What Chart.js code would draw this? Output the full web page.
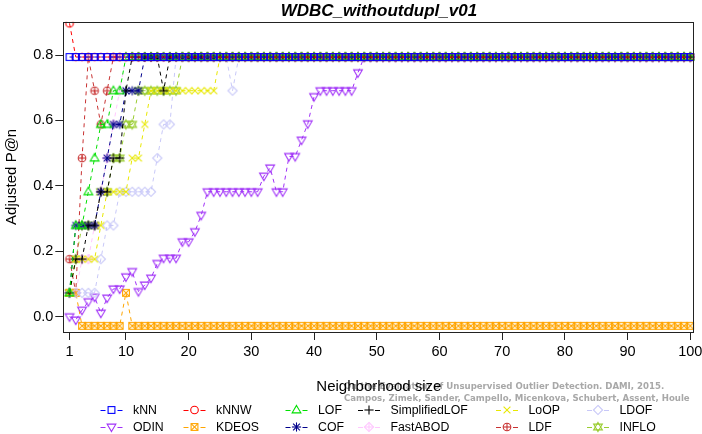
<!DOCTYPE html>
<html><head><meta charset="utf-8">
<script src="https://cdn.jsdelivr.net/npm/chart.js@4.4.1/dist/chart.umd.min.js"></script>
<style>html,body{margin:0;padding:0;background:#fff}canvas{display:block}</style>
</head><body>
<canvas id="c" width="702" height="434"></canvas>
<script>
// ---------------- data ----------------
const ks = [1,2,3,4,5,6,7,8,9,10,11,12,13,14,15,16,17,18,19,20,21,22,23,24,25,26,27,28,29,30,
31,32,33,34,35,36,37,38,39,40,41,42,43,44,45,46,47,48,49,50,51,52,53,54,55,56,57,58,59,60,
61,62,63,64,65,66,67,68,69,70,71,72,73,74,75,76,77,78,79,80,81,82,83,84,85,86,87,88,89,90,
91,92,93,94,95,96,97,98,99,100];
const xTicks = [1,10,20,30,40,50,60,70,80,90,100];
const yTicks = [0.0,0.2,0.4,0.6,0.8];
const seriesNames = ['kNN','kNNW','LOF','SimplifiedLOF','LoOP','LDOF','ODIN','KDEOS','COF','FastABOD','LDF','INFLO'];

const kNN = [
0.794,0.794,0.794,0.794,0.794,0.794,0.794,0.794,0.794,0.794,
0.794,0.794,0.794,0.794,0.794,0.794,0.794,0.794,0.794,0.794,
0.794,0.794,0.794,0.794,0.794,0.794,0.794,0.794,0.794,0.794,
0.794,0.794,0.794,0.794,0.794,0.794,0.794,0.794,0.794,0.794,
0.794,0.794,0.794,0.794,0.794,0.794,0.794,0.794,0.794,0.794,
0.794,0.794,0.794,0.794,0.794,0.794,0.794,0.794,0.794,0.794,
0.794,0.794,0.794,0.794,0.794,0.794,0.794,0.794,0.794,0.794,
0.794,0.794,0.794,0.794,0.794,0.794,0.794,0.794,0.794,0.794,
0.794,0.794,0.794,0.794,0.794,0.794,0.794,0.794,0.794,0.794,
0.794,0.794,0.794,0.794,0.794,0.794,0.794,0.794,0.794,0.794];
const kNNW = [
0.897,0.794,0.794,0.794,0.794,0.794,0.794,0.794,0.794,0.794,
0.794,0.794,0.794,0.794,0.794,0.794,0.794,0.794,0.794,0.794,
0.794,0.794,0.794,0.794,0.794,0.794,0.794,0.794,0.794,0.794,
0.794,0.794,0.794,0.794,0.794,0.794,0.794,0.794,0.794,0.794,
0.794,0.794,0.794,0.794,0.794,0.794,0.794,0.794,0.794,0.794,
0.794,0.794,0.794,0.794,0.794,0.794,0.794,0.794,0.794,0.794,
0.794,0.794,0.794,0.794,0.794,0.794,0.794,0.794,0.794,0.794,
0.794,0.794,0.794,0.794,0.794,0.794,0.794,0.794,0.794,0.794,
0.794,0.794,0.794,0.794,0.794,0.794,0.794,0.794,0.794,0.794,
0.794,0.794,0.794,0.794,0.794,0.794,0.794,0.794,0.794,0.794];
const LOF = [
0.073,0.279,0.279,0.382,0.485,0.588,0.588,0.691,0.691,0.794,
0.794,0.794,0.794,0.794,0.794,0.794,0.794,0.794,0.794,0.794,
0.794,0.794,0.794,0.794,0.794,0.794,0.794,0.794,0.794,0.794,
0.794,0.794,0.794,0.794,0.794,0.794,0.794,0.794,0.794,0.794,
0.794,0.794,0.794,0.794,0.794,0.794,0.794,0.794,0.794,0.794,
0.794,0.794,0.794,0.794,0.794,0.794,0.794,0.794,0.794,0.794,
0.794,0.794,0.794,0.794,0.794,0.794,0.794,0.794,0.794,0.794,
0.794,0.794,0.794,0.794,0.794,0.794,0.794,0.794,0.794,0.794,
0.794,0.794,0.794,0.794,0.794,0.794,0.794,0.794,0.794,0.794,
0.794,0.794,0.794,0.794,0.794,0.794,0.794,0.794,0.794,0.794];
const SimplifiedLOF = [
0.073,0.176,0.176,0.279,0.279,0.382,0.382,0.485,0.485,0.691,
0.794,0.794,0.794,0.794,0.794,0.691,0.794,0.794,0.794,0.794,
0.794,0.794,0.794,0.794,0.794,0.794,0.794,0.794,0.794,0.794,
0.794,0.794,0.794,0.794,0.794,0.794,0.794,0.794,0.794,0.794,
0.794,0.794,0.794,0.794,0.794,0.794,0.794,0.794,0.794,0.794,
0.794,0.794,0.794,0.794,0.794,0.794,0.794,0.794,0.794,0.794,
0.794,0.794,0.794,0.794,0.794,0.794,0.794,0.794,0.794,0.794,
0.794,0.794,0.794,0.794,0.794,0.794,0.794,0.794,0.794,0.794,
0.794,0.794,0.794,0.794,0.794,0.794,0.794,0.794,0.794,0.794,
0.794,0.794,0.794,0.794,0.794,0.794,0.794,0.794,0.794,0.794];
const LoOP = [
0.073,0.176,0.176,0.176,0.176,0.279,0.382,0.382,0.382,0.382,
0.485,0.485,0.588,0.691,0.691,0.691,0.691,0.691,0.691,0.691,
0.691,0.691,0.691,0.691,0.794,0.794,0.794,0.794,0.794,0.794,
0.794,0.794,0.794,0.794,0.794,0.794,0.794,0.794,0.794,0.794,
0.794,0.794,0.794,0.794,0.794,0.794,0.794,0.794,0.794,0.794,
0.794,0.794,0.794,0.794,0.794,0.794,0.794,0.794,0.794,0.794,
0.794,0.794,0.794,0.794,0.794,0.794,0.794,0.794,0.794,0.794,
0.794,0.794,0.794,0.794,0.794,0.794,0.794,0.794,0.794,0.794,
0.794,0.794,0.794,0.794,0.794,0.794,0.794,0.794,0.794,0.794,
0.794,0.794,0.794,0.794,0.794,0.794,0.794,0.794,0.794,0.794];
const LDOF = [
0.073,0.073,0.073,0.073,0.073,0.176,0.279,0.279,0.382,0.382,
0.382,0.382,0.382,0.382,0.485,0.588,0.588,0.794,0.794,0.794,
0.794,0.794,0.794,0.794,0.794,0.794,0.691,0.794,0.794,0.794,
0.794,0.794,0.794,0.794,0.794,0.794,0.794,0.794,0.794,0.794,
0.794,0.794,0.794,0.794,0.794,0.794,0.794,0.794,0.794,0.794,
0.794,0.794,0.794,0.794,0.794,0.794,0.794,0.794,0.794,0.794,
0.794,0.794,0.794,0.794,0.794,0.794,0.794,0.794,0.794,0.794,
0.794,0.794,0.794,0.794,0.794,0.794,0.794,0.794,0.794,0.794,
0.794,0.794,0.794,0.794,0.794,0.794,0.794,0.794,0.794,0.794,
0.794,0.794,0.794,0.794,0.794,0.794,0.794,0.794,0.794,0.794];
const ODIN = [
0.000,-0.010,0.020,0.046,0.060,0.011,0.057,0.085,0.085,0.122,
0.138,0.077,0.097,0.118,0.163,0.179,0.179,0.179,0.229,0.229,
0.260,0.310,0.382,0.382,0.382,0.382,0.382,0.382,0.382,0.382,
0.382,0.430,0.455,0.382,0.382,0.490,0.490,0.540,0.590,0.673,
0.691,0.691,0.691,0.691,0.691,0.691,0.746,0.794,0.794,0.794,
0.794,0.794,0.794,0.794,0.794,0.794,0.794,0.794,0.794,0.794,
0.794,0.794,0.794,0.794,0.794,0.794,0.794,0.794,0.794,0.794,
0.794,0.794,0.794,0.794,0.794,0.794,0.794,0.794,0.794,0.794,
0.794,0.794,0.794,0.794,0.794,0.794,0.794,0.794,0.794,0.794,
0.794,0.794,0.794,0.794,0.794,0.794,0.794,0.794,0.794,0.794];
const KDEOS = [
0.073,0.073,-0.028,-0.028,-0.028,-0.028,-0.028,-0.028,-0.028,0.073,
-0.028,-0.028,-0.028,-0.028,-0.028,-0.028,-0.028,-0.028,-0.028,-0.028,
-0.028,-0.028,-0.028,-0.028,-0.028,-0.028,-0.028,-0.028,-0.028,-0.028,
-0.028,-0.028,-0.028,-0.028,-0.028,-0.028,-0.028,-0.028,-0.028,-0.028,
-0.028,-0.028,-0.028,-0.028,-0.028,-0.028,-0.028,-0.028,-0.028,-0.028,
-0.028,-0.028,-0.028,-0.028,-0.028,-0.028,-0.028,-0.028,-0.028,-0.028,
-0.028,-0.028,-0.028,-0.028,-0.028,-0.028,-0.028,-0.028,-0.028,-0.028,
-0.028,-0.028,-0.028,-0.028,-0.028,-0.028,-0.028,-0.028,-0.028,-0.028,
-0.028,-0.028,-0.028,-0.028,-0.028,-0.028,-0.028,-0.028,-0.028,-0.028,
-0.028,-0.028,-0.028,-0.028,-0.028,-0.028,-0.028,-0.028,-0.028,-0.028];
const COF = [
0.073,0.279,0.279,0.279,0.279,0.382,0.485,0.588,0.588,0.691,
0.691,0.691,0.794,0.794,0.794,0.794,0.794,0.794,0.794,0.794,
0.794,0.794,0.794,0.794,0.794,0.794,0.794,0.794,0.794,0.794,
0.794,0.794,0.794,0.794,0.794,0.794,0.794,0.794,0.794,0.794,
0.794,0.794,0.794,0.794,0.794,0.794,0.794,0.794,0.794,0.794,
0.794,0.794,0.794,0.794,0.794,0.794,0.794,0.794,0.794,0.794,
0.794,0.794,0.794,0.794,0.794,0.794,0.794,0.794,0.794,0.794,
0.794,0.794,0.794,0.794,0.794,0.794,0.794,0.794,0.794,0.794,
0.794,0.794,0.794,0.794,0.794,0.794,0.794,0.794,0.794,0.794,
0.794,0.794,0.794,0.794,0.794,0.794,0.794,0.794,0.794,0.794];
const FastABOD = [
0.073,0.073,0.176,0.176,0.279,0.382,0.485,0.588,0.691,0.794,
0.794,0.794,0.794,0.794,0.794,0.794,0.794,0.794,0.794,0.794,
0.794,0.794,0.794,0.794,0.794,0.794,0.794,0.794,0.794,0.794,
0.794,0.794,0.794,0.794,0.794,0.794,0.794,0.794,0.794,0.794,
0.794,0.794,0.794,0.794,0.794,0.794,0.794,0.794,0.794,0.794,
0.794,0.794,0.794,0.794,0.794,0.794,0.794,0.794,0.794,0.794,
0.794,0.794,0.794,0.794,0.794,0.794,0.794,0.794,0.794,0.794,
0.794,0.794,0.794,0.794,0.794,0.794,0.794,0.794,0.794,0.794,
0.794,0.794,0.794,0.794,0.794,0.794,0.794,0.794,0.794,0.794,
0.794,0.794,0.794,0.794,0.794,0.794,0.794,0.794,0.794,0.794];
const LDF = [
0.176,0.073,0.485,0.794,0.691,0.588,0.691,0.794,0.794,0.794,
0.794,0.794,0.794,0.794,0.794,0.794,0.794,0.794,0.794,0.794,
0.794,0.794,0.794,0.794,0.794,0.794,0.794,0.794,0.794,0.794,
0.794,0.794,0.794,0.794,0.794,0.794,0.794,0.794,0.794,0.794,
0.794,0.794,0.794,0.794,0.794,0.794,0.794,0.794,0.794,0.794,
0.794,0.794,0.794,0.794,0.794,0.794,0.794,0.794,0.794,0.794,
0.794,0.794,0.794,0.794,0.794,0.794,0.794,0.794,0.794,0.794,
0.794,0.794,0.794,0.794,0.794,0.794,0.794,0.794,0.794,0.794,
0.794,0.794,0.794,0.794,0.794,0.794,0.794,0.794,0.794,0.794,
0.794,0.794,0.794,0.794,0.794,0.794,0.794,0.794,0.794,0.794];
const INFLO = [
0.073,0.176,0.279,0.279,0.279,0.382,0.382,0.485,0.485,0.588,
0.588,0.691,0.691,0.691,0.691,0.691,0.691,0.691,0.794,0.794,
0.794,0.794,0.794,0.794,0.794,0.794,0.794,0.794,0.794,0.794,
0.794,0.794,0.794,0.794,0.794,0.794,0.794,0.794,0.794,0.794,
0.794,0.794,0.794,0.794,0.794,0.794,0.794,0.794,0.794,0.794,
0.794,0.794,0.794,0.794,0.794,0.794,0.794,0.794,0.794,0.794,
0.794,0.794,0.794,0.794,0.794,0.794,0.794,0.794,0.794,0.794,
0.794,0.794,0.794,0.794,0.794,0.794,0.794,0.794,0.794,0.794,
0.794,0.794,0.794,0.794,0.794,0.794,0.794,0.794,0.794,0.794,
0.794,0.794,0.794,0.794,0.794,0.794,0.794,0.794,0.794,0.794];

const seriesValues = [kNN,kNNW,LOF,SimplifiedLOF,LoOP,LDOF,ODIN,KDEOS,COF,FastABOD,LDF,INFLO];

// ---------------- styles ----------------
const colors = ['#0000ff','#ff0000','#00e000','#000000','#e8e800','#c8c8f8',
                '#a030f8','#ffa500','#00008b','#ffc8ff','#c83232','#9acd32'];
const markers = ['square','circle','triangle','plus','x','diamond',
                 'downtri','boxx','asterisk','diamondplus','circleplus','star6'];

function drawMarker(ctx, type, x, y, color) {
  const s = 3.4;
  ctx.save();
  ctx.strokeStyle = color; ctx.lineWidth = 1.1; ctx.setLineDash([]);
  const path = pts => { ctx.beginPath(); ctx.moveTo(pts[0][0], pts[0][1]);
    for (let i = 1; i < pts.length; i++) ctx.lineTo(pts[i][0], pts[i][1]); ctx.closePath(); ctx.stroke(); };
  const seg = (a,b,c,d) => { ctx.beginPath(); ctx.moveTo(a,b); ctx.lineTo(c,d); ctx.stroke(); };
  const t = s * 1.35;
  const up = () => path([[x, y - t], [x + t * 0.95, y + t * 0.62], [x - t * 0.95, y + t * 0.62]]);
  const down = () => path([[x, y + t], [x + t * 0.95, y - t * 0.62], [x - t * 0.95, y - t * 0.62]]);
  const dia = () => path([[x, y - t], [x + t, y], [x, y + t], [x - t, y]]);
  switch (type) {
    case 'square': ctx.strokeRect(x - s, y - s, 2 * s, 2 * s); break;
    case 'circle': ctx.beginPath(); ctx.arc(x, y, s + 0.4, 0, Math.PI * 2); ctx.stroke(); break;
    case 'triangle': up(); break;
    case 'plus': seg(x - t, y, x + t, y); seg(x, y - t, x, y + t); break;
    case 'x': seg(x - s, y - s, x + s, y + s); seg(x - s, y + s, x + s, y - s); break;
    case 'diamond': dia(); break;
    case 'downtri': down(); break;
    case 'boxx': ctx.strokeRect(x - s, y - s, 2 * s, 2 * s);
      seg(x - s, y - s, x + s, y + s); seg(x - s, y + s, x + s, y - s); break;
    case 'asterisk': seg(x - t, y, x + t, y); seg(x, y - t, x, y + t);
      seg(x - s, y - s, x + s, y + s); seg(x - s, y + s, x + s, y - s); break;
    case 'diamondplus': dia(); seg(x - t, y, x + t, y); seg(x, y - t, x, y + t); break;
    case 'circleplus': ctx.beginPath(); ctx.arc(x, y, s + 0.4, 0, Math.PI * 2); ctx.stroke();
      seg(x - s - 0.4, y, x + s + 0.4, y); seg(x, y - s - 0.4, x, y + s + 0.4); break;
    case 'star6': up(); down(); break;
  }
  ctx.restore();
}
function markerImage(type, color) {
  const c = document.createElement('canvas');
  c.width = 14; c.height = 14;
  drawMarker(c.getContext('2d'), type, 7, 7, color);
  return c;
}

const FONT = '"Liberation Sans", Arial, Helvetica, sans-serif';
Chart.defaults.font.family = FONT;
Chart.defaults.color = '#000';

// first series is drawn last (on top), as in the reference
const datasets = seriesNames.map((name, i) => ({
  label: name,
  data: ks.map((k, j) => ({ x: k, y: seriesValues[i][j] })),
  borderColor: colors[i],
  backgroundColor: colors[i],
  borderWidth: 1,
  borderDash: [4, 4],
  pointStyle: markerImage(markers[i], colors[i]),
  pointRadius: 3.5,
  pointHoverRadius: 3.5,
  fill: false,
  tension: 0,
  order: i
}));

const decor = {
  id: 'decor',
  afterDatasetsDraw(chart) {
    const { ctx, chartArea: a } = chart;
    ctx.save();
    ctx.strokeStyle = '#222'; ctx.lineWidth = 1; ctx.setLineDash([]);
    ctx.strokeRect(Math.round(a.left) + 0.5, Math.round(a.top) + 0.5,
                   Math.round(a.right - a.left) - 1, Math.round(a.bottom - a.top));
    ctx.restore();
  },
  beforeDraw(chart) {
    const { ctx } = chart;
    ctx.save();
    // watermark
    ctx.fillStyle = '#a8a8a8';
    const w1 = 'On the Evaluation of Unsupervised Outlier Detection. DAMI, 2015.';
    const w2 = 'Campos, Zimek, Sander, Campello, Micenkova, Schubert, Assent, Houle';
    ctx.font = 'bold 10px "DejaVu Sans", sans-serif';
    const fs = 10 * 346 / ctx.measureText(w2).width;
    ctx.font = 'bold ' + fs.toFixed(2) + 'px "DejaVu Sans", sans-serif';
    ctx.textBaseline = 'middle'; ctx.textAlign = 'left';
    ctx.fillText(w1, 344, 387);
    ctx.fillText(w2, 344, 399);
    ctx.restore();
  },
  afterDraw(chart) {
    const { ctx, chartArea: a } = chart;
    ctx.save();
    // title
    ctx.fillStyle = '#000';
    ctx.font = 'italic bold 17px ' + FONT;
    ctx.textAlign = 'center'; ctx.textBaseline = 'middle';
    ctx.fillText('WDBC_withoutdupl_v01', (a.left + a.right) / 2, 11);
    // legend (R style, 2 rows x 6 columns)
    const colX = [111.5, 194.5, 296.5, 369, 507, 598];
    const rowY = [410, 427];
    ctx.font = '12.3px ' + FONT;
    ctx.textAlign = 'left';
    seriesNames.forEach((name, i) => {
      const cx = colX[i % 6], cy = rowY[Math.floor(i / 6)];
      ctx.strokeStyle = colors[i]; ctx.lineWidth = 1; ctx.setLineDash([]);
      ctx.beginPath(); ctx.moveTo(cx - 11, cy + 0.5); ctx.lineTo(cx - 6, cy + 0.5);
      ctx.moveTo(cx + 6, cy + 0.5); ctx.lineTo(cx + 11, cy + 0.5); ctx.stroke();
      drawMarker(ctx, markers[i], cx, cy, colors[i]);
      ctx.fillStyle = '#000';
      ctx.fillText(name, cx + 21.5, cy + 1);
    });
    ctx.restore();
  }
};

new Chart(document.getElementById('c'), {
  type: 'line',
  data: { datasets },
  options: {
    responsive: false,
    animation: false,
    events: [],
    layout: { padding: { top: 21.7, right: 7.5, left: 0, bottom: 0 } },
    plugins: { legend: { display: false }, tooltip: { enabled: false }, title: { display: false } },
    scales: {
      x: {
        type: 'linear', min: 0.01, max: 100.67,
        afterBuildTicks: s => { s.ticks = xTicks.map(v => ({ value: v })); },
        afterFit: s => { s.height = 102; s.paddingLeft = 0; s.paddingRight = 0; },
        ticks: { font: { size: 14.5 }, color: '#000', padding: 3, maxRotation: 0, autoSkip: false },
        grid: { drawOnChartArea: false, drawTicks: true, tickLength: 8, color: '#222' },
        border: { display: false },
        title: { display: true, text: 'Neighborhood size', font: { size: 15 }, color: '#000', padding: { top: 0, bottom: 38 } }
      },
      y: {
        type: 'linear', min: -0.0468, max: 0.902,
        afterBuildTicks: s => { s.ticks = yTicks.map(v => ({ value: v })); },
        afterFit: s => { s.width = 63.3; s.paddingTop = 0; s.paddingBottom = 0; },
        ticks: { font: { size: 14.5 }, color: '#000', padding: 2, callback: v => v.toFixed(1) },
        grid: { drawOnChartArea: false, drawTicks: true, tickLength: 8, color: '#222' },
        border: { display: false },
        title: { display: true, text: 'Adjusted P@n', font: { size: 15 }, color: '#000', padding: { top: 3, bottom: 0 } }
      }
    }
  },
  plugins: [decor]
});
</script>
</body></html>
